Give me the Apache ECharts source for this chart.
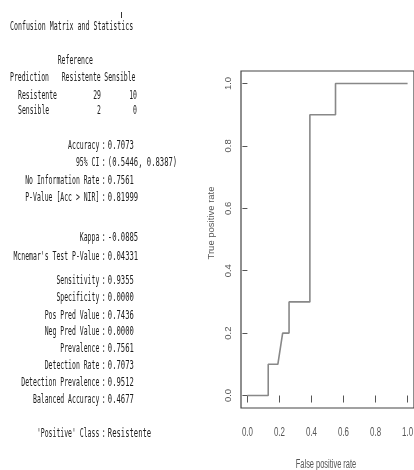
<!DOCTYPE html>
<html>
<head>
<meta charset="utf-8">
<script src="https://cdn.jsdelivr.net/npm/echarts@6/dist/echarts.min.js"></script>
<style>
  html, body { margin: 0; padding: 0; background: #fff; }
  #chart { width: 414px; height: 470px; }
</style>
</head>
<body>
<div id="chart"></div>
<script>
// ROC curve points (false positive rate, true positive rate)
const fpr = [0, 0.13, 0.13, 0.19, 0.22, 0.26, 0.26, 0.39, 0.39, 0.55, 0.55, 1.0];
const tpr = [0, 0, 0.1, 0.1, 0.2, 0.2, 0.3, 0.3, 0.9, 0.9, 1.0, 1.0];
const xTicks = [0, 0.2, 0.4, 0.6, 0.8, 1.0];
const yTicks = [0, 0.2, 0.4, 0.6, 0.8, 1.0];

// confusion matrix printout
const refClasses = ['Resistente', 'Sensible'];
const matrixRows = [[29, 10], [2, 0]];
const overallNames = ['Accuracy', '95% CI', 'No Information Rate', 'P-Value [Acc > NIR]', 'Kappa', "Mcnemar's Test P-Value"];
const overallValues = ['0.7073', '(0.5446, 0.8387)', '0.7561', '0.81999', '-0.0885', '0.04331'];
const classNames = ['Sensitivity', 'Specificity', 'Pos Pred Value', 'Neg Pred Value', 'Prevalence',
  'Detection Rate', 'Detection Prevalence', 'Balanced Accuracy', "'Positive' Class"];
const classValues = ['0.9355', '0.0000', '0.7436', '0.0000', '0.7561', '0.7073', '0.9512', '0.4677', 'Resistente'];

// line positions of the printout (layout only)
const overallY = [146, 163.3, 181, 198.3, 238.3, 256.7];
const classY = [281, 298.3, 315.7, 332.3, 349.3, 366, 383.3, 400, 434.3];

const mono = 'DejaVu Sans Mono';
const txtColor = '#1a1a1a';

function txt(text, x, y, align, sx) {
  return {
    type: 'text', x: x, y: y, scaleX: sx || 0.54, silent: true,
    style: { text: text, fontSize: 12, fontFamily: mono, fill: txtColor, align: align, verticalAlign: 'middle' }
  };
}

const els = [];
els.push({ type: 'line', shape: { x1: 121.5, y1: 12, x2: 121.5, y2: 18 }, style: { stroke: '#333', lineWidth: 1 } });
els.push(txt('Confusion Matrix and Statistics', 10, 26.7, 'left', 0.55));
els.push(txt('Reference', 57.7, 61, 'left'));
els.push(txt('Prediction', 10, 78.3, 'left'));
els.push(txt(refClasses[0], 61.7, 78.3, 'left'));
els.push(txt(refClasses[1], 104.3, 78.3, 'left'));
const rowY = [95.7, 110.7];
matrixRows.forEach((row, i) => {
  els.push(txt(refClasses[i], 18, rowY[i], 'left'));
  els.push(txt(String(row[0]), 101, rowY[i], 'right'));
  els.push(txt(String(row[1]), 137, rowY[i], 'right'));
});

function statLines(names, values, ys) {
  names.forEach((n, i) => {
    els.push(txt(n, 99.3, ys[i], 'right'));
    els.push(txt(':', 103.8, ys[i], 'center'));
    els.push(txt(values[i], 107.8, ys[i], 'left', 0.6));
  });
}
statLines(overallNames, overallValues, overallY);
statLines(classNames, classValues, classY);

// axis titles
els.push({
  type: 'text', x: 326, y: 465, scaleX: 0.62, silent: true,
  style: { text: 'False positive rate', fontSize: 12, fontFamily: 'Liberation Sans', fill: '#555', align: 'center', verticalAlign: 'middle' }
});
els.push({
  type: 'text', x: 211, y: 223, rotation: Math.PI / 2, silent: true,
  style: { text: 'True positive rate', fontSize: 9.5, fontFamily: 'Liberation Sans', fill: '#555', align: 'center', verticalAlign: 'middle' }
});

const chart = echarts.init(document.getElementById('chart'), null, { renderer: 'canvas' });
chart.setOption({
  animation: false,
  backgroundColor: '#fff',
  grid: { left: 241, top: 71, width: 176, height: 337, show: true, borderColor: '#444', borderWidth: 1.2, backgroundColor: 'transparent' },
  xAxis: {
    type: 'value', min: -0.04, max: 1.04,
    axisLine: { show: false },
    splitLine: { show: false },
    axisTick: { show: true, length: 7, customValues: xTicks, lineStyle: { color: '#555' } },
    axisLabel: { show: false }
  },
  yAxis: {
    type: 'value', min: -0.04, max: 1.04,
    axisLine: { show: false },
    splitLine: { show: false },
    axisTick: { show: true, length: 5, customValues: yTicks, lineStyle: { color: '#555' } },
    axisLabel: {
      customValues: yTicks, margin: 8, rotate: 90, fontSize: 9.5, color: '#555',
      fontFamily: 'Liberation Sans',
      formatter: v => v.toFixed(1)
    }
  },
  series: [{
    type: 'line',
    data: fpr.map((x, i) => [x, tpr[i]]),
    showSymbol: false,
    lineStyle: { color: '#888', width: 1.6 }
  }]
});

// x tick labels are condensed in the original, placed through the x scale
xTicks.forEach(v => {
  const px = chart.convertToPixel({ xAxisIndex: 0 }, v);
  els.push({
    type: 'text', x: px, y: 433, scaleX: 0.66, silent: true,
    style: { text: v.toFixed(1), fontSize: 12, fontFamily: 'Liberation Sans', fill: '#555', align: 'center', verticalAlign: 'middle' }
  });
});
chart.setOption({ graphic: { elements: els } });
</script>
</body>
</html>
